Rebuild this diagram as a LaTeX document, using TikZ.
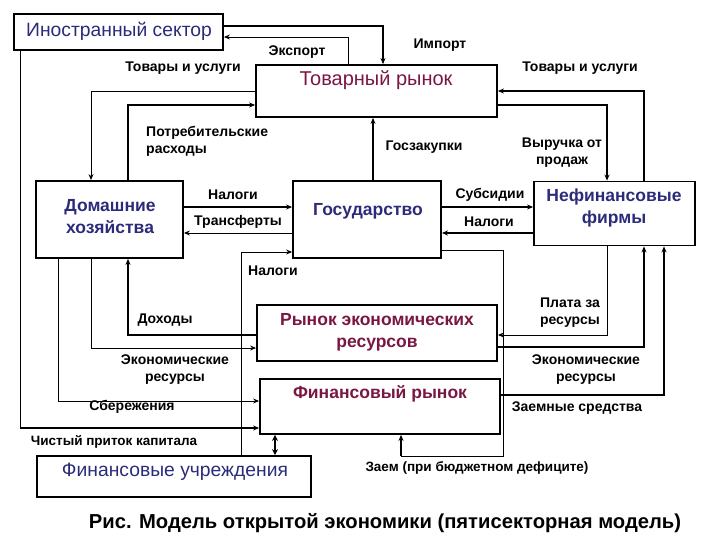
\documentclass[tikz,border=0pt]{standalone}
\usepackage{fontspec}
\setmainfont{Liberation Sans}
\usetikzlibrary{arrows.meta}
\definecolor{navy}{HTML}{2B2B7A}
\definecolor{maroon}{HTML}{7A1642}
\tikzset{
  box/.style={draw, line width=1.8pt, inner sep=0pt},
  btxt/.style={font=\fontsize{19.3}{22}\selectfont, align=center, inner sep=0pt, text=navy},
  mtxt/.style={font=\bfseries\fontsize{17.5}{21}\selectfont, align=center, inner sep=0pt, text=maroon},
  lbl/.style={font=\bfseries\fontsize{14}{17}\selectfont, align=center, inner sep=0pt},
  lbln/.style={font=\bfseries\fontsize{13.5}{17}\selectfont, align=center, inner sep=0pt},
  arr/.style={-{Stealth[length=6pt,width=5pt]}},
  thk/.style={line width=1.6pt},
  thn/.style={line width=0.9pt},
}
\begin{document}
\begin{tikzpicture}[x=1pt,y=-1pt]
\useasboundingbox (0,0) rectangle (720,540);
% boxes
\node[box, minimum width=209pt, minimum height=36pt] (fs) at (118.5,32) {};
\node[box, minimum width=241pt, minimum height=52pt] (tr) at (376.5,91) {};
\node[box, minimum width=147pt, minimum height=77pt] (hh) at (109.5,219.5) {};
\node[box, minimum width=148pt, minimum height=77pt] (gov) at (367,219.5) {};
\node[box, minimum width=161pt, minimum height=64pt] (nf) at (614.5,213.5) {};
\node[box, minimum width=240pt, minimum height=56pt] (rer) at (377,333) {};
\node[box, minimum width=240pt, minimum height=55pt] (fm) at (380,406.5) {};
\node[box, minimum width=274pt, minimum height=41pt] (fi) at (174,476.5) {};
% box texts
\node[btxt] (fsT) at (119,31) {Иностранный сектор};
\node[btxt, text=maroon, font=\fontsize{20}{22}\selectfont] (trT) at (376,80) {Товарный рынок};
\node[btxt, font=\bfseries\fontsize{17.5}{22}\selectfont] (hhT) at (110,217) {Домашние\\хозяйства};
\node[btxt, font=\bfseries\fontsize{17.5}{21}\selectfont] (govT) at (368,211) {Государство};
\node[btxt, font=\bfseries\fontsize{17.5}{22}\selectfont] (nfT) at (614,208) {Нефинансовые\\фирмы};
\node[mtxt, font=\bfseries\fontsize{17.5}{22}\selectfont] (rerT) at (377,332) {Рынок экономических\\ресурсов};
\node[mtxt] (fmT) at (380,394) {Финансовый рынок};
\node[btxt] (fiT) at (175,472) {Финансовые учреждения};
% connectors
\draw[thn,arr] (tr.north -| 348,0) -- (348,37) -- (fs.east |- 0,37);
\draw[thk,arr] (fs.east |- 0,26) -- (383,26) -- (tr.north -| 383,0);
\draw[thn,arr] (tr.west |- 0,91) -- (91,91) -- (hh.north -| 91,0);
\draw[thk,arr] (hh.north -| 128,0) -- (128,105) -- (tr.west |- 0,105);
\draw[thk,arr] (gov.north -| 373,0) -- (tr.south -| 373,0);
\draw[thk,arr] (nf.north -| 644,0) -- (644,91) -- (tr.east |- 0,91);
\draw[thk,arr] (tr.east |- 0,105) -- (607,105) -- (nf.north -| 607,0);
\draw[thk,arr] (hh.east |- 0,207) -- (gov.west |- 0,207);
\draw[thn,arr] (gov.west |- 0,233) -- (hh.east |- 0,233);
\draw[thk,arr] (gov.east |- 0,207) -- (nf.west |- 0,207);
\draw[thk,arr] (nf.west |- 0,233) -- (gov.east |- 0,233);
\draw[thn,arr] (fi.north -| 241,0) -- (241,252) -- (gov.west |- 0,252);
\draw[thn] (gov.east |- 0,250) -- (503,250) -- (503,456) -- (401,456);
\draw[thk,arr] (401,456) -- (fm.south -| 401,0);
\draw[thn,arr] (nf.south -| 607,0) -- (607,335) -- (rer.east |- 0,335);
\draw[thk,arr] (rer.east |- 0,347) -- (644,347) -- (nf.south -| 644,0);
\draw[thk,arr] (fm.east |- 0,395) -- (664,395) -- (nf.south -| 664,0);
\draw[thk,arr] (rer.west |- 0,335) -- (128,335) -- (hh.south -| 128,0);
\draw[thn,arr] (hh.south -| 91,0) -- (91,348) -- (rer.west |- 0,348);
\draw[thn,arr] (hh.south -| 58,0) -- (58,401) -- (fm.west |- 0,401);
\draw[thn] (fs.south -| 20,0) -- (20,428);
\draw[thk,arr] (20,428) -- (fm.west |- 0,428);
\draw[line width=2.2pt,{Stealth[length=6pt,width=6pt]}-{Stealth[length=6pt,width=6pt]}] (fm.south -| 275,0) -- (fi.north -| 275,0);
% labels
\node[lbl] (l1) at (297,52) {Экспорт};
\node[lbl] (l2) at (440,45) {Импорт};
\node[lbl] (l3) at (183,68) {Товары и услуги};
\node[lbl] (l4) at (580,68) {Товары и услуги};
\node[lbl, align=left, anchor=west] (l5) at (146,141) {Потребительские\\расходы};
\node[lbl] (l6) at (424,147) {Госзакупки};
\node[lbl] (l7) at (562,153) {Выручка от\\продаж};
\node[lbl] (l8) at (233,195) {Налоги};
\node[lbl] (l9) at (238,222) {Трансферты};
\node[lbl] (l10) at (273,271) {Налоги};
\node[lbl] (l11) at (490,195) {Субсидии};
\node[lbl] (l12) at (489,222) {Налоги};
\node[lbl] (l13) at (165,320) {Доходы};
\node[lbl] (l14) at (175,370) {Экономические\\ресурсы};
\node[lbl] (l15) at (132,407) {Сбережения};
\node[lbln] (l16) at (114,442) {Чистый приток капитала};
\node[lbl] (l17) at (570,313) {Плата за\\ресурсы};
\node[lbl] (l18) at (586,370) {Экономические\\ресурсы};
\node[lbl] (l19) at (577,408) {Заемные средства};
\node[lbln] (l20) at (477,468) {Заем (при бюджетном дефиците)};
\node[font=\bfseries\fontsize{20.2}{23}\selectfont, inner sep=0pt] (cap) at (385,523) {Рис. Модель открытой экономики (пятисекторная модель)};
\end{tikzpicture}
\end{document}
